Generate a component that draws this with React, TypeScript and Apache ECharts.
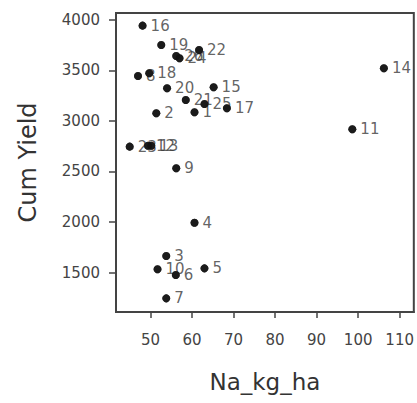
import React, { useEffect, useRef } from "react";
import * as echarts from "echarts";

const pointIds = ["1","2","3","4","5","6","7","8","9","10","11","12","13","14","15","16","17","18","19","20","21","22","23","24","25","26"];
const naKgHa = [60.6, 51.4, 53.8, 60.6, 63.0, 56.1, 53.8, 47.0, 56.2, 51.7, 98.6, 49.4, 50.2, 106.2, 65.2, 48.1, 68.4, 49.7, 52.6, 54.0, 58.5, 61.7, 45.0, 57.0, 63.0, 56.2];
const cumYield = [3086, 3076, 1663, 1993, 1541, 1475, 1244, 3446, 2532, 1532, 2918, 2755, 2755, 3522, 3334, 3944, 3126, 3472, 3752, 3324, 3208, 3703, 2746, 3621, 3168, 3644];
const xTicks = [50, 60, 70, 80, 90, 100, 110];
const yTicks = [1500, 2000, 2500, 3000, 3500, 4000];

export default function App() {
  const ref = useRef<HTMLDivElement>(null);
  useEffect(() => {
    if (!ref.current) return;
    const chart = echarts.init(ref.current, null, { renderer: "svg" });
    const font = "DejaVu Sans";
    const axisCol = "#444";
    const pts = naKgHa.map((x, i) => ({ value: [x, cumYield[i]], name: pointIds[i] }));
    chart.setOption({
      animation: false,
      backgroundColor: "#fff",
      grid: {
        left: 116, right: 2, top: 13, bottom: 91,
        show: true, borderColor: axisCol, borderWidth: 2, backgroundColor: "transparent",
      },
      xAxis: {
        type: "value",
        min: 41.7, max: 113.4,
        name: "Na_kg_ha",
        nameLocation: "middle",
        nameGap: 58,
        nameTextStyle: { fontFamily: font, fontSize: 23, color: "#333" },
        splitLine: { show: false },
        axisLine: { show: true, lineStyle: { color: axisCol, width: 2 } },
        axisTick: { show: true, length: 6, customValues: xTicks, lineStyle: { color: axisCol, width: 1.5 } },
        axisLabel: { customValues: xTicks, margin: 20, fontFamily: font, fontSize: 15, color: "#444", formatter: (v: number) => String(v) },
      },
      yAxis: {
        type: "value",
        min: 1109, max: 4069,
        name: "Cum Yield",
        nameLocation: "middle",
        nameRotate: 90,
        nameGap: 76,
        nameTextStyle: { fontFamily: font, fontSize: 24, color: "#333" },
        splitLine: { show: false },
        axisLine: { show: true, lineStyle: { color: axisCol, width: 2 } },
        axisTick: { show: true, length: 7, customValues: yTicks, lineStyle: { color: axisCol, width: 1.5 } },
        axisLabel: { customValues: yTicks, margin: 16, fontFamily: font, fontSize: 15, color: "#444", formatter: (v: number) => String(v) },
      },
      series: [
        {
          type: "scatter",
          z: 2,
          symbol: "circle",
          symbolSize: 8,
          itemStyle: { color: "#111" },
          data: pts,
          label: {
            show: true,
            position: "right",
            distance: 4,
            formatter: (p: any) => p.name,
            fontFamily: font,
            fontSize: 15,
            color: "#3a3a3a",
          },
        },
        {
          type: "scatter",
          z: 5,
          symbol: "circle",
          symbolSize: 8,
          itemStyle: { color: "#111" },
          data: pts,
          label: { show: false },
        },
      ],
    });
    return () => chart.dispose();
  }, []);
  return (
    <div
      ref={ref}
      style={{ position: "fixed", left: 0, top: 0, width: 417, height: 403, background: "#fff" }}
    />
  );
}
